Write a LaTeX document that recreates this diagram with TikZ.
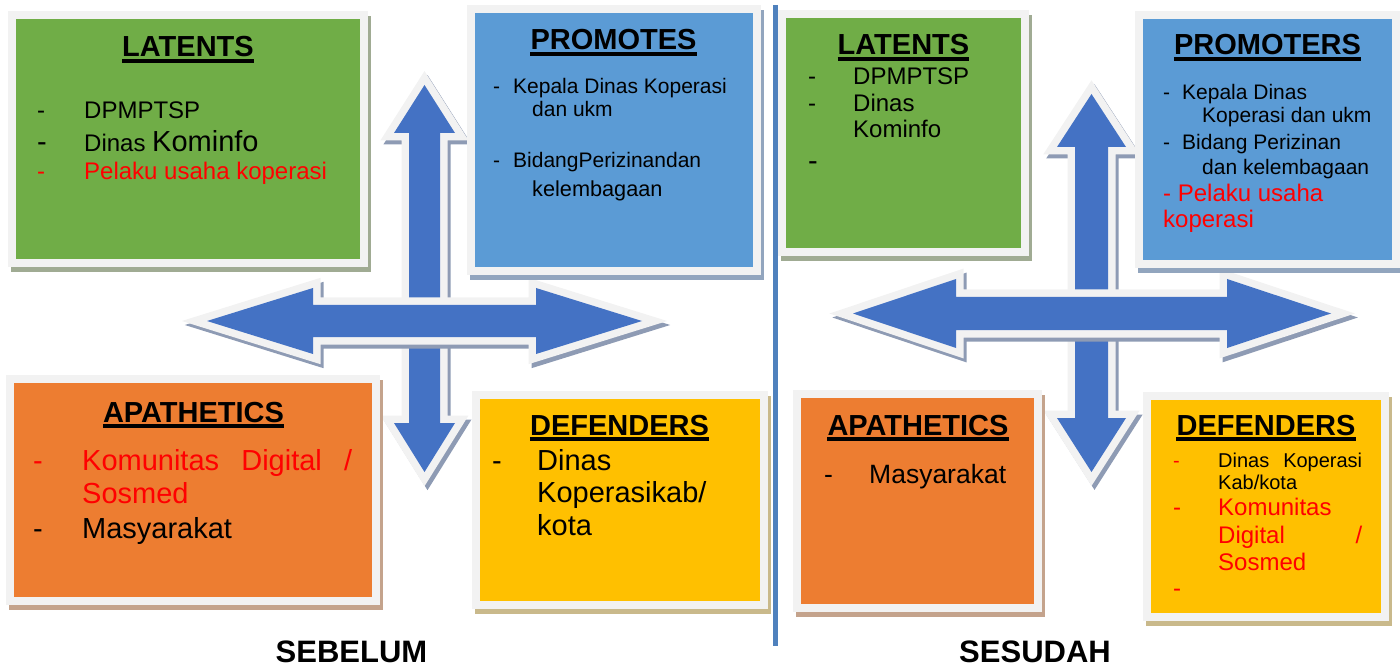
\documentclass[tikz,border=0pt]{standalone}
\usepackage{fontspec}
\setmainfont{Liberation Sans}
\usetikzlibrary{calc}
\definecolor{frame}{HTML}{F2F2F2}
\definecolor{arrblue}{HTML}{4472C4}
\definecolor{arrshade}{HTML}{8E9BB4}
\definecolor{cLat}{HTML}{70AD47}
\definecolor{cLatS}{HTML}{A0AB93}
\definecolor{cProm}{HTML}{5B9BD5}
\definecolor{cPromS}{HTML}{92A5BE}
\definecolor{cApa}{HTML}{ED7D31}
\definecolor{cApaS}{HTML}{C4A38C}
\definecolor{cDef}{HTML}{FFC000}
\definecolor{cDefS}{HTML}{C9B98B}
\definecolor{divider}{HTML}{4F81BD}
\newcommand{\headfnt}{\bfseries\fontsize{29}{34}\selectfont}
\newcommand{\titlefnt}{\bfseries\fontsize{31}{36}\selectfont}
\newcommand{\sizeL}{\fontsize{29}{34}\selectfont}
\newcommand{\sizeML}{\fontsize{26.5}{31}\selectfont}
\newcommand{\sizeM}{\fontsize{24}{28}\selectfont}
\newcommand{\sizeS}{\fontsize{21}{25}\selectfont}
\newcommand{\sizeSL}{\fontsize{21.7}{26}\selectfont}
\newcommand{\sizeXS}{\fontsize{20}{24}\selectfont}
\newcommand{\itm}[1][45pt]{\makebox[#1][l]{-}}

\begin{document}
\begin{tikzpicture}[x=1pt,y=-1pt,
  panel/.style={draw=frame,line width=8pt,inner sep=0pt,fill=#1,
    preaction={fill=#1S,draw=#1S,line width=8pt,transform canvas={shift={(3,5)}}}},
  dblarrow/.style={fill=arrblue,
    preaction={fill=arrshade,draw=arrshade,line width=15pt,line join=miter,
      transform canvas={shift={(3,4)}}},
    preaction={draw=frame,line width=15pt,line join=miter}},
  head/.style={inner sep=0pt,anchor=base,font=\headfnt},
  txt/.style={inner sep=0pt,anchor=base west},
  uline/.style={line width=3.8pt},
  ptitle/.style={inner sep=0pt,anchor=base,font=\titlefnt}]
\useasboundingbox (0,0) rectangle (1400,668);

% SEBELUM: arrows
\path[dblarrow] (424.5,85) -- (455,133) -- (440,133) -- (440,423) -- (455,423)
  -- (424.5,472) -- (394,423) -- (409,423) -- (409,133) -- (394,133) -- cycle;
\path[dblarrow] (207,321) -- (313,288) -- (313,305) -- (536,305) -- (536,288)
  -- (642,321) -- (536,354) -- (536,337) -- (313,337) -- (313,354) -- cycle;

% SESUDAH: arrows
\path[dblarrow] (1091.5,94) -- (1126,147) -- (1108,147) -- (1108,418) -- (1126,418)
  -- (1091.5,472) -- (1057,418) -- (1075,418) -- (1075,147) -- (1057,147) -- cycle;
\path[dblarrow] (853,313.5) -- (956,279) -- (956,297) -- (1227,297) -- (1227,279)
  -- (1331,313.5) -- (1227,348) -- (1227,330) -- (956,330) -- (956,348) -- cycle;

% panels
\node[panel=cLat,minimum width=352pt,minimum height=248pt] (latA) at (188,139) {};
\node[panel=cProm,minimum width=286pt,minimum height=262pt] (promA) at (613.5,140) {};
\node[panel=cApa,minimum width=366pt,minimum height=221.5pt] (apaA) at (193,490) {};
\node[panel=cDef,minimum width=288.5pt,minimum height=209.5pt] (defA) at (620,500) {};
\node[panel=cLat,minimum width=243pt,minimum height=237.5pt] (latB) at (903,133) {};
\node[panel=cProm,minimum width=257pt,minimum height=249pt] (promB) at (1267.5,139.5) {};
\node[panel=cApa,minimum width=241pt,minimum height=213.5pt] (apaB) at (917.5,501) {};
\node[panel=cDef,minimum width=238pt,minimum height=221pt] (defB) at (1266,506.5) {};

\draw[divider,line width=4.5pt] (775.5,5) -- (775.5,646);

% SEBELUM: texts
\node[head] (latAh) at (188,57) {LATENTS};
\node[txt,font=\sizeM] (latA1) at (37,119) {\itm[47pt]DPMPTSP};
\node[txt,font=\sizeM] (latA2) at (37,152) {{\sizeL\itm[47pt]}Dinas {\sizeL Kominfo}};
\node[txt,font=\sizeM,red] (latA3) at (37,180) {\itm[47pt]Pelaku usaha koperasi};

\node[head] (promAh) at (613.5,50) {PROMOTES};
\node[txt,font=\sizeS] (promA1) at (493,94) {\itm[20pt]Kepala Dinas Koperasi};
\node[txt,font=\sizeS] (promA1b) at (532,117) {dan ukm};
\node[txt,font=\sizeS] (promA2) at (493,168) {\itm[20pt]BidangPerizinandan};
\node[txt,font=\sizeSL] (promA2b) at (532,197) {kelembagaan};

\node[head] (apaAh) at (193.5,422) {APATHETICS};
\node[txt,font=\sizeL,red] (apaA1) at (33,470) {\itm[49pt]\makebox[270pt][s]{Komunitas Digital /}};
\node[txt,font=\sizeL,red] (apaA1b) at (82,503) {Sosmed};
\node[txt,font=\sizeL] (apaA2) at (33,538) {\itm[49pt]Masyarakat};

\node[head] (defAh) at (619.5,435) {DEFENDERS};
\node[txt,font=\sizeL] (defA1) at (492,470) {\itm Dinas};
\node[txt,font=\sizeL] (defA1b) at (537,502) {Koperasikab/};
\node[txt,font=\sizeL] (defA1c) at (537,535) {kota};

% SESUDAH: texts
\node[head] (latBh) at (903.5,55) {LATENTS};
\node[txt,font=\sizeM] (latB1) at (808,85) {\itm DPMPTSP};
\node[txt,font=\sizeM] (latB2) at (808,112) {\itm Dinas};
\node[txt,font=\sizeM] (latB2b) at (853,138) {Kominfo};
\node[txt,font=\sizeL] (latB3) at (808,171) {-};

\node[head] (promBh) at (1267.5,55) {PROMOTERS};
\node[txt,font=\sizeS] (promB1) at (1163,100) {\itm[19pt]Kepala Dinas};
\node[txt,font=\sizeS] (promB1b) at (1202,123) {Koperasi dan ukm};
\node[txt,font=\sizeS] (promB2) at (1163,150) {\itm[19pt]Bidang Perizinan};
\node[txt,font=\sizeS] (promB2b) at (1202,175) {dan kelembagaan};
\node[txt,font=\sizeM,red] (promB3) at (1163,202) {- Pelaku usaha};
\node[txt,font=\sizeM,red] (promB3b) at (1163,228) {koperasi};

\node[head] (apaBh) at (918,435) {APATHETICS};
\node[txt,font=\sizeML] (apaB1) at (824,483) {\itm Masyarakat};

\node[head] (defBh) at (1266,435) {DEFENDERS};
\node[txt,font=\sizeXS] (defB1) at (1173,467) {\textcolor{red}{\itm}\makebox[144pt][s]{Dinas Koperasi}};
\node[txt,font=\sizeXS] (defB1b) at (1218,489) {Kab/kota};
\node[txt,font=\sizeM,red] (defB2) at (1173,515) {\itm Komunitas};
\node[txt,font=\sizeM,red] (defB2b) at (1218,543) {\makebox[144pt][s]{Digital /}};
\node[txt,font=\sizeM,red] (defB2c) at (1218,570) {Sosmed};
\node[txt,font=\sizeM,red] (defB3) at (1173,596) {-};

% underlined headings
\foreach \h in {latAh,promAh,apaAh,defAh,latBh,promBh,apaBh,defBh}
  \draw[uline] ($(\h.base west)+(0,4.3)$) -- ($(\h.base east)+(0,4.3)$);

\node[ptitle] (sebelum) at (351.5,662) {SEBELUM};
\node[ptitle] (sesudah) at (1035,662) {SESUDAH};
\end{tikzpicture}
\end{document}
